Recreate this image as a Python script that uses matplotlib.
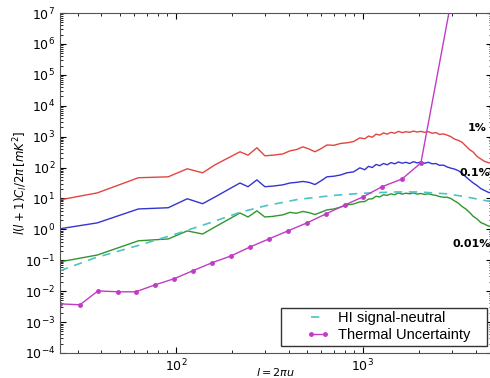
import numpy as np
import matplotlib
matplotlib.use("Agg")
import matplotlib.pyplot as plt
import matplotlib.patches as patches
from matplotlib.ticker import LogLocator, NullFormatter

# multipole bins shared by the three foreground-residual curves
ell = [24, 38, 63, 91, 115, 139, 162, 220, 243, 271, 299,
       330, 373, 407, 440, 478, 515, 554, 600, 642, 700, 760, 821, 890, 963,
       1023, 1072, 1122, 1175, 1230, 1288, 1349, 1413, 1479, 1549, 1622, 1698,
       1778, 1862, 1950, 2042, 2138, 2239, 2344, 2455, 2570, 2692, 2818, 2951,
       3090, 3236, 3388, 3548, 3715, 3890, 4074, 4266, 4467, 4677, 4898]

# log10 of l(l+1)C_l/2pi for 1%, 0.1%, 0.01% residuals
res_1pct = [0.955, 1.18, 1.67, 1.70, 1.96, 1.83, 2.09, 2.51, 2.40, 2.64, 2.38,
            2.40, 2.44, 2.54, 2.58, 2.67, 2.60, 2.51, 2.62, 2.73, 2.72, 2.78, 2.80, 2.84, 2.96,
            2.93, 3.02, 2.98, 3.08, 3.05, 3.12, 3.08, 3.14, 3.11, 3.17, 3.13, 3.16,
            3.14, 3.18, 3.15, 3.17, 3.14, 3.16, 3.11, 3.13, 3.07, 3.09, 3.05, 3.00,
            2.92, 2.88, 2.82, 2.70, 2.58, 2.50, 2.36, 2.28, 2.20, 2.16, 2.14]
res_01pct = [0.02, 0.21, 0.66, 0.70, 0.99, 0.83, 1.05, 1.50, 1.38, 1.60, 1.38,
             1.40, 1.44, 1.50, 1.52, 1.55, 1.52, 1.45, 1.58, 1.70, 1.72, 1.76, 1.83, 1.86, 1.99,
             1.93, 2.04, 2.00, 2.10, 2.06, 2.13, 2.09, 2.16, 2.12, 2.18, 2.14, 2.17,
             2.13, 2.19, 2.15, 2.18, 2.14, 2.17, 2.12, 2.13, 2.07, 2.08, 2.02, 1.98,
             1.95, 1.90, 1.82, 1.70, 1.60, 1.50, 1.42, 1.32, 1.26, 1.20, 1.17]
res_001pct = [-1.05, -0.83, -0.37, -0.31, -0.05, -0.15, 0.08, 0.53, 0.40, 0.60, 0.40,
              0.42, 0.47, 0.55, 0.52, 0.58, 0.54, 0.48, 0.56, 0.63, 0.66, 0.72, 0.79, 0.82, 0.89,
              0.90, 0.98, 0.99, 1.07, 1.05, 1.12, 1.10, 1.15, 1.12, 1.18, 1.14, 1.17,
              1.15, 1.18, 1.14, 1.16, 1.13, 1.15, 1.12, 1.10, 1.06, 1.04, 1.04, 1.00,
              0.92, 0.85, 0.74, 0.66, 0.55, 0.42, 0.34, 0.22, 0.17, 0.11, 0.08]

# HI signal (neutral)
ell_hi = [24, 37, 63, 100, 150, 220, 300, 450, 700, 1000, 1500, 2000, 2800, 3500, 4900]
hi_signal = [-1.34, -0.92, -0.52, -0.15, 0.20, 0.55, 0.76, 0.97, 1.10, 1.17, 1.21,
             1.21, 1.15, 1.06, 0.89]

# thermal noise uncertainty
ell_th = [24, 30.7, 38.3, 49, 61, 77, 97.5, 123, 156, 197, 249, 314, 397, 502,
          634, 802, 1000, 1265, 1618, 2042, 3258]
thermal = [-2.41, -2.44, -1.99, -2.02, -2.02, -1.80, -1.60, -1.34, -1.08, -0.86,
           -0.57, -0.31, -0.05, 0.21, 0.50, 0.79, 1.05, 1.38, 1.63, 2.15, 8.73]

W, H = 490, 378
fig = plt.figure(figsize=(W/100, H/100), dpi=100)
ax = fig.add_axes([60/W, 25/H, 432/W, 340/H])

ax.plot(ell, 10**np.array(res_1pct), color='#e2453f', lw=1)
ax.plot(ell, 10**np.array(res_01pct), color='#3434d2', lw=1)
ax.plot(ell, 10**np.array(res_001pct), color='#2f962f', lw=1)
ax.plot(ell_hi, 10**np.array(hi_signal), color='#4cc3c6', lw=1.2,
        ls=(0, (5, 4)), label='HI signal-neutral')
ax.plot(ell_th, 10**np.array(thermal), color='#c13cc4', lw=1, marker='o',
        ms=2.5, label='Thermal Uncertainty')

ax.set_xscale('log')
ax.set_yscale('log')
ax.set_xlim(24, 4900)
ax.set_ylim(1e-4, 1e7)
ax.yaxis.set_major_locator(LogLocator(base=10, numticks=20))
ax.yaxis.set_minor_locator(LogLocator(base=10, subs=np.arange(2, 10), numticks=100))
ax.yaxis.set_minor_formatter(NullFormatter())
ax.tick_params(which='both', direction='in', top=True, right=True, labelsize=9)
ax.tick_params(which='major', length=4)
ax.tick_params(which='minor', length=2)
for s in ax.spines.values():
    s.set_color('#555555')

ax.text(3640, 10**3.28, '1%', fontsize=8, fontweight='bold', va='center')
ax.text(3300, 10**1.83, '0.1%', fontsize=8, fontweight='bold', va='center')
ax.text(3000, 10**-0.47, '0.01%', fontsize=8, fontweight='bold', va='center')

ax.set_xlabel(r'$l = 2\pi u$', fontsize=8, labelpad=-6)
ax.set_ylabel(r'$l(l+1)C_l/2\pi\,[mK^2]$', fontsize=8.5, labelpad=-4)

# legend frame drawn as a plain box, legend entries on top of it
box = patches.Rectangle((281/W, 32/H), 206/W, 38/H, transform=fig.transFigure,
                        facecolor='white', edgecolor='#333333', lw=1,
                        zorder=4, clip_on=False)
ax.add_patch(box)
leg = ax.legend(loc='lower right', bbox_to_anchor=(470/W, 36/H),
                bbox_transform=fig.transFigure, borderaxespad=0, borderpad=0,
                frameon=False, numpoints=2, handlelength=1.6, handletextpad=0.55,
                labelspacing=0.2, prop={'family': 'Liberation Sans', 'size': 10.5})
leg.set_zorder(5)

fig.savefig('out.png', dpi=100)
